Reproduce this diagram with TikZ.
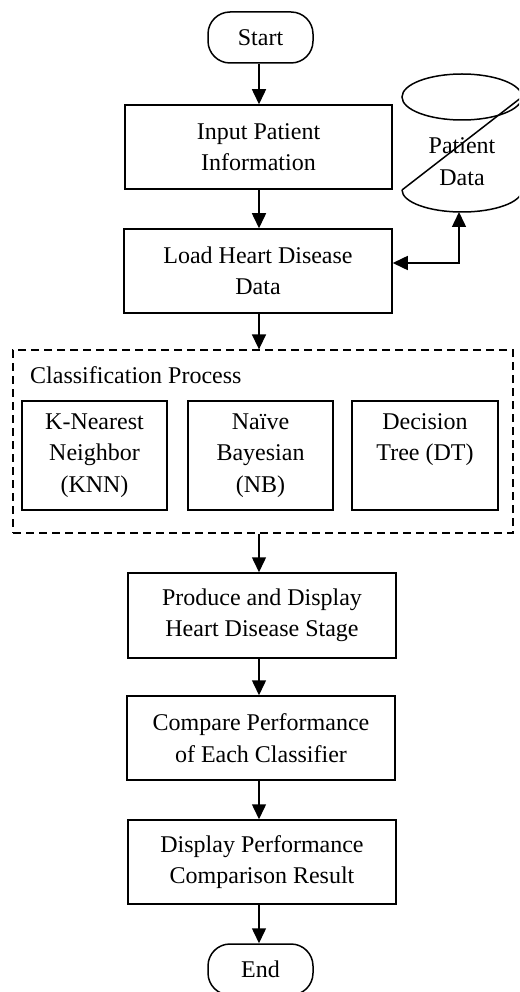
\documentclass[tikz,border=0pt]{standalone}
\usepackage{fontspec}
\setmainfont{Liberation Serif}
\usetikzlibrary{arrows.meta,calc}
\begin{document}
\begin{tikzpicture}[x=1pt,y=-1pt,
  every node/.style={font=\fontsize{24}{31.5}\selectfont},
  proc/.style={draw,line width=1.5pt,inner sep=0pt,align=center},
  term/.style={draw,line width=1.5pt,inner sep=0pt,align=center,rounded corners=22pt,minimum width=105pt,minimum height=51pt},
  arr/.style={line width=1.5pt,-{Triangle[length=15pt,width=14pt]}},
  darr/.style={line width=1.5pt,{Triangle[length=15pt,width=14pt]}-{Triangle[length=15pt,width=14pt]}},
  cyl/.style={line width=1.5pt}]
\useasboundingbox (0,0) rectangle (519,992);
\node[term] (start) at (260.5,37.5) {Start};
\node[proc,minimum width=267pt,minimum height=84pt] (input) at (258.5,147) {Input Patient\\Information};
\node[proc,minimum width=268pt,minimum height=84pt] (load) at (258,271) {Load Heart Disease\\Data};
\node[draw,line width=1.3pt,dash pattern=on 8pt off 5pt,minimum width=500pt,minimum height=183pt,inner sep=0pt] (cls) at (263,441.5) {};
\node[anchor=base west,inner sep=0pt] (clslabel) at (30,383) {Classification Process};
\node[proc,minimum width=145pt,minimum height=109pt] (knn) at (94.5,455.5) {K-Nearest\\Neighbor\\(KNN)};
\node[proc,minimum width=145pt,minimum height=109pt] (nb) at (260.5,455.5) {Naïve\\Bayesian\\(NB)};
\node[proc,minimum width=146pt,minimum height=109pt] (dt) at (425,455.5) {Decision\\Tree (DT)\\\phantom{(KNN)}};
\node[proc,minimum width=268pt,minimum height=85pt] (produce) at (262,615.5) {Produce and Display\\Heart Disease Stage};
\node[proc,minimum width=268pt,minimum height=84pt] (compare) at (261,738) {Compare Performance\\of Each Classifier};
\node[proc,minimum width=268pt,minimum height=84pt] (display) at (262,862) {Display Performance\\Comparison Result};
\node[term] (end) at (260.5,969.5) {End};
% database (partly outside the page)
\begin{scope}
\clip (0,0) rectangle (519,992);
\draw[cyl] (462,97) ellipse [x radius=60, y radius=23];
\draw[cyl] (522,97) -- (402,190);
\draw[cyl] (402,190) arc [start angle=180, end angle=0, x radius=60, y radius=22];
\end{scope}
\node[align=center,inner sep=0pt] (db) at (462,161.5) {Patient\\Data};
\coordinate (dbbot) at (459,212);
\coordinate (bend) at (459,263);
% connectors
\draw[arr] (start.south -| 259,0) -- (input.north -| 259,0);
\draw[arr] (input.south -| 259,0) -- (load.north -| 259,0);
\draw[arr] (load.south -| 259,0) -- (cls.north -| 259,0);
\draw[arr] (cls.south -| 259,0) -- (produce.north -| 259,0);
\draw[arr] (produce.south -| 259,0) -- (compare.north -| 259,0);
\draw[arr] (compare.south -| 259,0) -- (display.north -| 259,0);
\draw[arr] (display.south -| 259,0) -- (end.north -| 259,0);
\draw[darr] (load.east |- bend) -- (bend) -- (dbbot);
\end{tikzpicture}
\end{document}
